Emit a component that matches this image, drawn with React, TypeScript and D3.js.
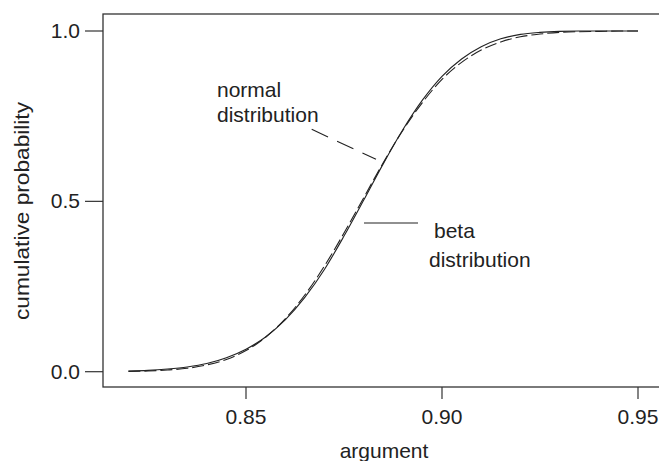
import React from 'react'
import * as d3 from 'd3'

// argument grid shared by both curves
const argument = [
  0.82, 0.825, 0.83, 0.835, 0.84, 0.845, 0.85, 0.855, 0.86, 0.865, 0.87, 0.875, 0.88, 0.885,
  0.89, 0.895, 0.9, 0.905, 0.91, 0.915, 0.92, 0.925, 0.93, 0.935, 0.94, 0.945, 0.95,
]

// normal distribution (dashed)
const normalCdf = [
  0.001, 0.002, 0.005, 0.01, 0.02, 0.036, 0.062, 0.101, 0.155, 0.225, 0.31, 0.407, 0.51, 0.613,
  0.708, 0.79, 0.858, 0.908, 0.944, 0.968, 0.983, 0.991, 0.996, 0.998, 0.999, 1.0, 1.0,
]

// beta distribution (solid)
const betaCdf = [
  0.002, 0.004, 0.008, 0.014, 0.024, 0.041, 0.066, 0.102, 0.152, 0.218, 0.3, 0.398, 0.503, 0.61,
  0.71, 0.797, 0.867, 0.918, 0.954, 0.977, 0.99, 0.996, 0.999, 1.0, 1.0, 1.0, 1.0,
]

const xTicks = [0.85, 0.9, 0.95]
const xTickLabels = ['0.85', '0.90', '0.95']
const yTicks = [0, 0.5, 1]
const yTickLabels = ['0.0', '0.5', '1.0']

const W = 659
const H = 461
const INK = '#222'
const FONT = '"Liberation Sans", Arial, Helvetica, sans-serif'

export default function App() {
  const left = 103
  const top = 14
  const bottom = 387

  const x = d3.scaleLinear().domain([0.85, 0.95]).range([246, 638])
  const y = d3.scaleLinear().domain([0, 1]).range([371.7, 31])

  const line = d3
    .line<number>()
    .x((_, i) => x(argument[i]))
    .y((d) => y(d))
    .curve(d3.curveMonotoneX)

  return (
    <div style={{ position: 'absolute', left: 0, top: 0 }}>
      <svg width={W} height={H} style={{ display: 'block', background: '#fff' }} fontFamily={FONT}>
        {/* frame */}
        <rect x={left} y={top} width={W} height={bottom - top} fill="none" stroke="#333" strokeWidth={1.3} />

        {/* y axis */}
        {yTicks.map((t, i) => (
          <g key={t}>
            <line x1={left - 18} x2={left} y1={y(t)} y2={y(t)} stroke="#333" strokeWidth={1.2} />
            <text x={80} y={y(t) + 7} textAnchor="end" fontSize={21} fill={INK}>
              {yTickLabels[i]}
            </text>
          </g>
        ))}

        {/* x axis */}
        {xTicks.map((t, i) => (
          <g key={t}>
            <line x1={x(t)} x2={x(t)} y1={bottom} y2={bottom + 12} stroke="#333" strokeWidth={1.2} />
            <text x={x(t)} y={424} textAnchor="middle" fontSize={21} fill={INK}>
              {xTickLabels[i]}
            </text>
          </g>
        ))}

        <text x={384} y={458} textAnchor="middle" fontSize={21} fill={INK}>
          argument
        </text>
        <text
          transform="translate(29,211) rotate(-90)"
          textAnchor="middle"
          fontSize={21}
          fill={INK}
          textLength={218}
          lengthAdjust="spacingAndGlyphs"
        >
          cumulative probability
        </text>

        {/* curves */}
        <path d={line(betaCdf) || ''} fill="none" stroke={INK} strokeWidth={1.1} />
        <path d={line(normalCdf) || ''} fill="none" stroke={INK} strokeWidth={1.1} strokeDasharray="12,4" />

        {/* annotations */}
        <text x={217} y={97} fontSize={21} fill={INK}>normal</text>
        <text x={217} y={122} fontSize={21} fill={INK}>distribution</text>
        <line x1={311.7} y1={129.3} x2={376} y2={159.3} stroke={INK} strokeWidth={1.1} strokeDasharray="18,10" />

        <line x1={364} y1={223} x2={418} y2={223} stroke={INK} strokeWidth={1.1} />
        <text x={434} y={238} fontSize={21} fill={INK}>beta</text>
        <text x={429} y={267} fontSize={21} fill={INK}>distribution</text>
      </svg>
    </div>
  )
}
